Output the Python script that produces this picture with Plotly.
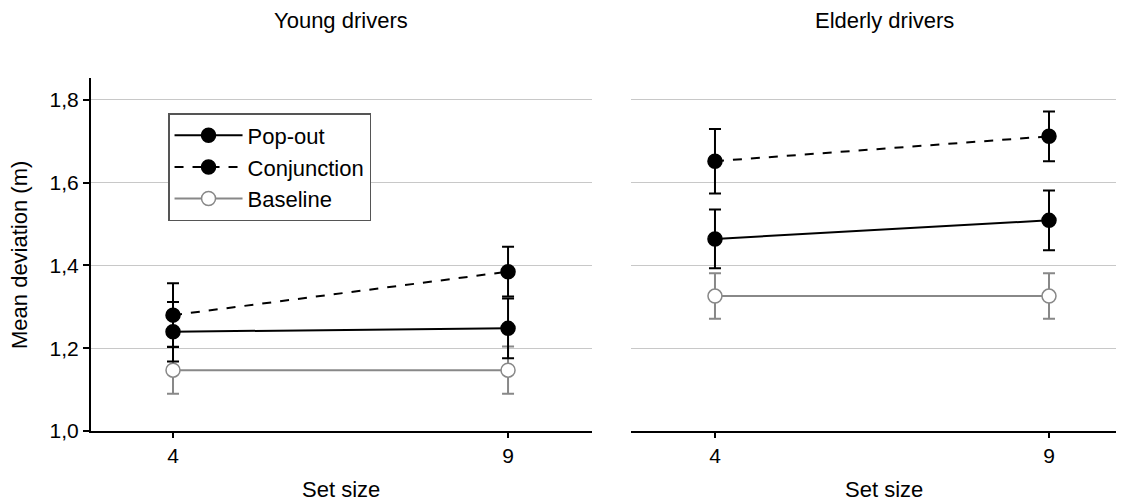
import plotly.graph_objects as go

set_sizes = ["4", "9"]

young_popout = [1.240, 1.248]
young_popout_err = [0.072, 0.072]
young_conj = [1.280, 1.385]
young_conj_err = [0.077, 0.060]
young_base = [1.147, 1.147]
young_base_err = [0.057, 0.057]

elderly_popout = [1.464, 1.509]
elderly_popout_err = [0.071, 0.072]
elderly_conj = [1.652, 1.712]
elderly_conj_err = [0.078, 0.060]
elderly_base = [1.326, 1.326]
elderly_base_err = [0.055, 0.055]

y_ticks = [1.0, 1.2, 1.4, 1.6, 1.8]

FONT = "Liberation Sans, Arial, sans-serif"
BLACK = "#000000"
GRAY = "#888888"
TICK_SIZE = 21
TEXT_SIZE = 22
LEGEND_SIZE = 22

fig = go.Figure()


def add_series(xaxis, yaxis, y, err, name, color, dash, fill, show, rank):
    fig.add_trace(go.Scatter(
        x=set_sizes, y=y, name=name, mode="lines+markers",
        xaxis=xaxis, yaxis=yaxis, showlegend=show, legendrank=rank,
        line=dict(color=color, width=2, dash=dash),
        marker=dict(size=14, color=fill, line=dict(color=color, width=1.5)),
        error_y=dict(type="data", array=err, visible=True, color=color,
                     thickness=2, width=6),
    ))


for xa, ya, pop, pop_e, conj, conj_e, base, base_e, show in [
    ("x", "y", young_popout, young_popout_err, young_conj, young_conj_err,
     young_base, young_base_err, True),
    ("x2", "y2", elderly_popout, elderly_popout_err, elderly_conj, elderly_conj_err,
     elderly_base, elderly_base_err, False),
]:
    add_series(xa, ya, base, base_e, "Baseline", GRAY, "solid", "white", show, 3)
    add_series(xa, ya, pop, pop_e, "Pop-out", BLACK, "solid", BLACK, show, 1)
    add_series(xa, ya, conj, conj_e, "Conjunction", BLACK, "dash", BLACK, show, 2)

common_x = dict(type="category", showgrid=False, zeroline=False,
                ticks="outside", ticklen=5, tickwidth=2, tickcolor=BLACK,
                showline=True, linecolor=BLACK, linewidth=2,
                tickfont=dict(family=FONT, size=TICK_SIZE, color=BLACK))
common_y = dict(range=[1.0, 1.853], tickvals=y_ticks, tickformat=".1f",
                showgrid=True, gridcolor="#c8c8c8", gridwidth=1, zeroline=False)

fig.update_layout(
    width=1124, height=501,
    paper_bgcolor="white", plot_bgcolor="white",
    separators=",.",
    margin=dict(l=83, r=0, t=70, b=78),
    font=dict(family=FONT, size=TEXT_SIZE, color=BLACK),
    xaxis=dict(domain=[0, 0.4813], range=[-0.2448, 1.2507], anchor="y", **common_x),
    xaxis2=dict(domain=[0.5187, 1], range=[-0.2515, 1.2485], anchor="y2", **common_x),
    yaxis=dict(anchor="x", showline=True, linecolor=BLACK, linewidth=2,
               ticks="outside", ticklen=6, tickwidth=2, tickcolor=BLACK,
               tickfont=dict(family=FONT, size=TICK_SIZE, color=BLACK), **common_y),
    yaxis2=dict(anchor="x2", matches="y", showline=False, showticklabels=False,
                ticks="", **common_y),
    legend=dict(x=0.074, y=0.9008, xanchor="left", yanchor="top",
                bordercolor="#555555", borderwidth=1.5, bgcolor="white",
                font=dict(family=FONT, size=LEGEND_SIZE, color=BLACK),
                tracegroupgap=0, itemwidth=68),
    showlegend=True,
)

for text, x in [("Young drivers", 0.2402), ("Elderly drivers", 0.7618)]:
    fig.add_annotation(text=text, xref="paper", yref="paper", x=x, y=1.0,
                       xanchor="center", yanchor="middle", yshift=58,
                       showarrow=False,
                       font=dict(family=FONT, size=TEXT_SIZE, color=BLACK))

for x in [0.2402, 0.7618]:
    fig.add_annotation(text="Set size", xref="paper", yref="paper",
                       x=x, y=0.0, xanchor="center", yanchor="middle",
                       yshift=-58, showarrow=False,
                       font=dict(family=FONT, size=TEXT_SIZE, color=BLACK))

fig.add_annotation(text="Mean deviation (m)", xref="paper", yref="paper",
                   x=0.0, y=0.4986, xanchor="center", yanchor="middle",
                   xshift=-71, textangle=-90, showarrow=False,
                   font=dict(family=FONT, size=TEXT_SIZE, color=BLACK))

fig.write_html("out.html")
